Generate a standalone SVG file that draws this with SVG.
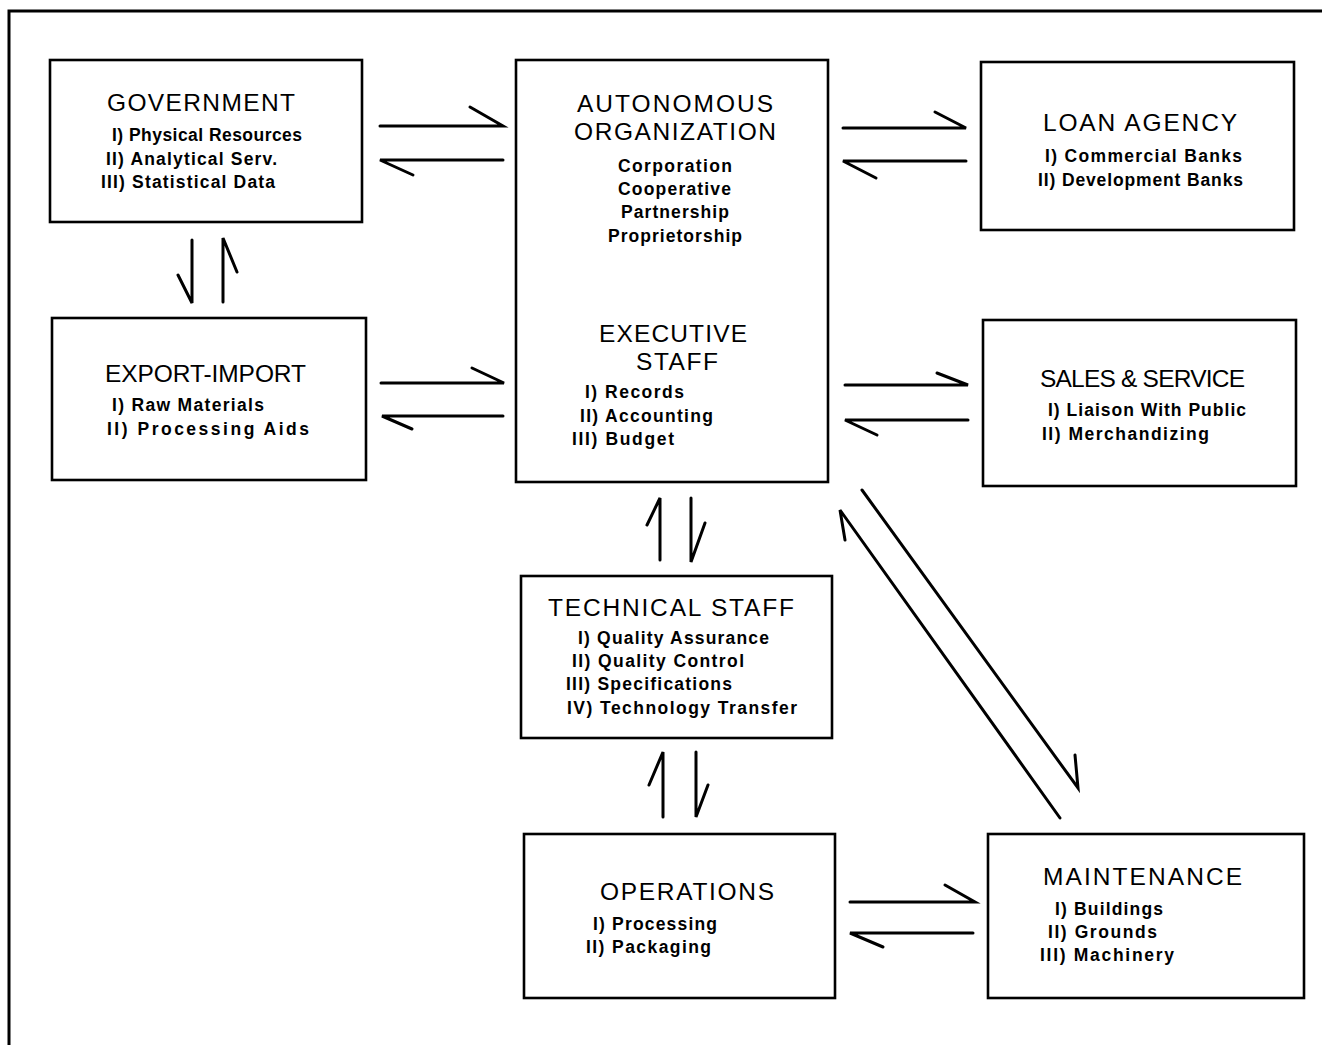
<svg xmlns="http://www.w3.org/2000/svg" width="1322" height="1045" viewBox="0 0 1322 1045">
<style>
.box{fill:#fff;stroke:#000;stroke-width:2.6}
.t{font-family:"Liberation Sans",Arial,sans-serif;font-size:24.5px;fill:#000}
.i{font-family:"Liberation Sans",Arial,sans-serif;font-size:17.5px;font-weight:bold;fill:#000}
.c{fill:none;stroke:#000;stroke-width:3;stroke-linecap:round;stroke-linejoin:miter}
</style>
<rect width="1322" height="1045" fill="#fff"/>
<path d="M9 1045 V11 H1322" fill="none" stroke="#000" stroke-width="3"/>

<g id="government">
<rect class="box" x="50" y="60" width="312" height="162"/>
<text class="t" x="107" y="111" textLength="188" lengthAdjust="spacing">GOVERNMENT</text>
<text class="i" x="112" y="141" textLength="190" lengthAdjust="spacing">I) Physical Resources</text>
<text class="i" x="106" y="165" textLength="171" lengthAdjust="spacing">II) Analytical Serv.</text>
<text class="i" x="101" y="188" textLength="174" lengthAdjust="spacing">III) Statistical Data</text>
</g>

<g id="autonomous-organization">
<rect class="box" x="516" y="60" width="312" height="422"/>
<text class="t" x="577" y="112" textLength="196" lengthAdjust="spacing">AUTONOMOUS</text>
<text class="t" x="574" y="140" textLength="202" lengthAdjust="spacing">ORGANIZATION</text>
<text class="i" x="618" y="172" textLength="114" lengthAdjust="spacing">Corporation</text>
<text class="i" x="618" y="195" textLength="113" lengthAdjust="spacing">Cooperative</text>
<text class="i" x="621" y="218" textLength="108" lengthAdjust="spacing">Partnership</text>
<text class="i" x="608" y="242" textLength="134" lengthAdjust="spacing">Proprietorship</text>
<text class="t" x="599" y="342" textLength="148" lengthAdjust="spacing">EXECUTIVE</text>
<text class="t" x="636" y="370" textLength="82" lengthAdjust="spacing">STAFF</text>
<text class="i" x="585" y="398" textLength="99" lengthAdjust="spacing">I) Records</text>
<text class="i" x="580" y="422" textLength="133" lengthAdjust="spacing">II) Accounting</text>
<text class="i" x="572" y="445" textLength="102" lengthAdjust="spacing">III) Budget</text>
</g>

<g id="loan-agency">
<rect class="box" x="981" y="62" width="313" height="168"/>
<text class="t" x="1043" y="131" textLength="194" lengthAdjust="spacing">LOAN AGENCY</text>
<text class="i" x="1045" y="162" textLength="197" lengthAdjust="spacing">I) Commercial Banks</text>
<text class="i" x="1038" y="186" textLength="205" lengthAdjust="spacing">II) Development Banks</text>
</g>

<g id="export-import">
<rect class="box" x="52" y="318" width="314" height="162"/>
<text class="t" x="105" y="382" textLength="201" lengthAdjust="spacing">EXPORT-IMPORT</text>
<text class="i" x="112" y="411" textLength="152" lengthAdjust="spacing">I) Raw Materials</text>
<text class="i" x="107" y="435" textLength="202" lengthAdjust="spacing">II) Processing Aids</text>
</g>

<g id="sales-service">
<rect class="box" x="983" y="320" width="313" height="166"/>
<text class="t" x="1040" y="387" textLength="205" lengthAdjust="spacing">SALES &amp; SERVICE</text>
<text class="i" x="1048" y="416" textLength="198" lengthAdjust="spacing">I) Liaison With Public</text>
<text class="i" x="1042" y="440" textLength="167" lengthAdjust="spacing">II) Merchandizing</text>
</g>

<g id="technical-staff">
<rect class="box" x="521" y="576" width="311" height="162"/>
<text class="t" x="548" y="616" textLength="246" lengthAdjust="spacing">TECHNICAL STAFF</text>
<text class="i" x="578" y="644" textLength="191" lengthAdjust="spacing">I) Quality Assurance</text>
<text class="i" x="572" y="667" textLength="172" lengthAdjust="spacing">II) Quality Control</text>
<text class="i" x="566" y="690" textLength="166" lengthAdjust="spacing">III) Specifications</text>
<text class="i" x="567" y="714" textLength="230" lengthAdjust="spacing">IV) Technology Transfer</text>
</g>

<g id="operations">
<rect class="box" x="524" y="834" width="311" height="164"/>
<text class="t" x="600" y="900" textLength="174" lengthAdjust="spacing">OPERATIONS</text>
<text class="i" x="593" y="930" textLength="124" lengthAdjust="spacing">I) Processing</text>
<text class="i" x="586" y="953" textLength="125" lengthAdjust="spacing">II) Packaging</text>
</g>

<g id="maintenance">
<rect class="box" x="988" y="834" width="316" height="164"/>
<text class="t" x="1043" y="885" textLength="199" lengthAdjust="spacing">MAINTENANCE</text>
<text class="i" x="1055" y="915" textLength="108" lengthAdjust="spacing">I) Buildings</text>
<text class="i" x="1048" y="938" textLength="109" lengthAdjust="spacing">II) Grounds</text>
<text class="i" x="1040" y="961" textLength="134" lengthAdjust="spacing">III) Machinery</text>
</g>

<g id="connectors">
<path class="c" d="M380 126 H503 L470 107"/>
<path class="c" d="M503 160 H380 L413 175"/>
<path class="c" d="M192 240 V303 L178 275"/>
<path class="c" d="M223 302 V238 L237 272"/>
<path class="c" d="M381 383 H504 L472 368"/>
<path class="c" d="M503 416 H382 L412 429"/>
<path class="c" d="M843 128 H966 L935 112"/>
<path class="c" d="M966 161 H843 L876 178"/>
<path class="c" d="M845 385 H968 L937 373"/>
<path class="c" d="M968 420 H845 L877 435"/>
<path class="c" d="M660 560 V498 L647 525"/>
<path class="c" d="M691 498 V562 L705 523"/>
<path class="c" d="M663 817 V752 L649 785"/>
<path class="c" d="M696 752 V817 L708 785"/>
<path class="c" d="M862 490 L1078 788 L1075 755"/>
<path class="c" d="M1060 818 L840 510 L845 540"/>
<path class="c" d="M850 902 H975 L945 885"/>
<path class="c" d="M973 933 H850 L883 947"/>
</g>
</svg>
